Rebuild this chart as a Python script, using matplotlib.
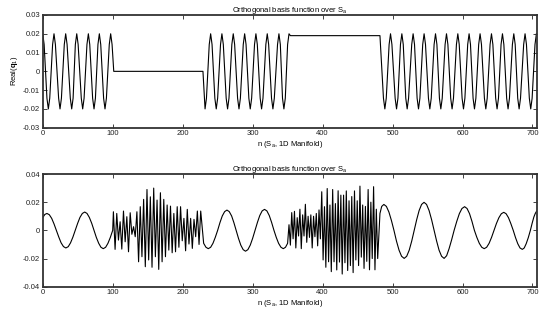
import matplotlib
matplotlib.use("Agg")
import matplotlib.pyplot as plt
import numpy as np

plt.rcParams["font.family"] = ["Liberation Sans", "DejaVu Sans"]
plt.rcParams["mathtext.fontset"] = "custom"
plt.rcParams["mathtext.rm"] = "Liberation Sans"
plt.rcParams["mathtext.it"] = "Liberation Sans:italic"
plt.rcParams["mathtext.bf"] = "Liberation Sans:bold"

# ---- top panel: Real(q1) ----
# first burst (n 0..101)
top1_n = [0, 2,
          6, 8, 10, 14.1, 16.1, 18.1, 22.7, 24.7, 26.7, 30.8, 32.8, 34.8,
          39.4, 41.4, 43.4, 46.6, 48.6, 50.6, 55.1, 57.1, 59.1, 63.2, 65.2, 67.2,
          71.3, 73.3, 75.3, 78.9, 80.9, 82.9, 87, 89, 91, 95.1, 97.1, 99.1,
          101.5, 229]
top1_v = [0.02, 0.0143,
          -0.0143, -0.02, -0.0143, 0.0143, 0.02, 0.0143, -0.0143, -0.02, -0.0143, 0.0143, 0.02, 0.0143,
          -0.0143, -0.02, -0.0143, 0.0143, 0.02, 0.0143, -0.0143, -0.02, -0.0143, 0.0143, 0.02, 0.0143,
          -0.0143, -0.02, -0.0143, 0.0143, 0.02, 0.0143, -0.0143, -0.02, -0.0143, 0.0143, 0.02, 0.0143,
          0.0, 0.0]
# second burst (n 229..354), then the flat level
top2_n = [232, 234, 238, 240, 242, 246, 248, 250, 254.1, 256.1, 258.1,
          262.2, 264.2, 266.2, 270.3, 272.3, 274.3, 278.5, 280.5, 282.5, 286.6, 288.6, 290.6,
          294.6, 296.6, 298.6, 302.7, 304.7, 306.7, 310.8, 312.8, 314.8, 318.9, 320.9, 322.9,
          327, 329, 331, 335.6, 337.6, 339.6, 342.7, 344.7, 346.7, 350, 352, 354, 482]
top2_v = [-0.02, -0.0143, 0.0143, 0.02, 0.0143, -0.0143, -0.02, -0.0143, 0.0143, 0.02, 0.0143,
          -0.0143, -0.02, -0.0143, 0.0143, 0.02, 0.0143, -0.0143, -0.02, -0.0143, 0.0143, 0.02, 0.0143,
          -0.0143, -0.02, -0.0143, 0.0143, 0.02, 0.0143, -0.0143, -0.02, -0.0143, 0.0143, 0.02, 0.0143,
          -0.0143, -0.02, -0.0143, 0.0143, 0.02, 0.0143, -0.0143, -0.02, -0.0143, 0.0143, 0.020, 0.019, 0.019]
# third burst (n 482..706)
top3_n = [487, 489, 491, 495.1, 497.1, 499.1, 503.7, 505.7, 507.7, 511.3, 513.3, 515.3,
          518.9, 520.9, 522.9, 527.4, 529.4, 531.4, 535.1, 537.1, 539.1, 543.1, 545.1, 547.1,
          551.3, 553.3, 555.3, 559.4, 561.4, 563.4, 567, 569, 571, 575.1, 577.1, 579.1,
          583.1, 585.1, 587.1, 591.3, 593.3, 595.3, 599.4, 601.4, 603.4, 607.4, 609.4, 611.4,
          615.1, 617.1, 619.1, 623.1, 625.1, 627.1, 631.3, 633.3, 635.3, 639.4, 641.4, 643.4,
          647.4, 649.4, 651.4, 655.1, 657.1, 659.1, 663.1, 665.1, 667.1, 671.3, 673.3, 675.3,
          678.9, 680.9, 682.9, 687.4, 689.4, 691.4, 695.5, 697.5, 699.5, 703.6, 705.6]
top3_v = [-0.0143, -0.02, -0.0143, 0.0143, 0.02, 0.0143, -0.0143, -0.02, -0.0143, 0.0143, 0.02, 0.0143,
          -0.0143, -0.02, -0.0143, 0.0143, 0.02, 0.0143, -0.0143, -0.02, -0.0143, 0.0143, 0.02, 0.0143,
          -0.0143, -0.02, -0.0143, 0.0143, 0.02, 0.0143, -0.0143, -0.02, -0.0143, 0.0143, 0.02, 0.0143,
          -0.0143, -0.02, -0.0143, 0.0143, 0.02, 0.0143, -0.0143, -0.02, -0.0143, 0.0143, 0.02, 0.0143,
          -0.0143, -0.02, -0.0143, 0.0143, 0.02, 0.0143, -0.0143, -0.02, -0.0143, 0.0143, 0.02, 0.0143,
          -0.0143, -0.02, -0.0143, 0.0143, 0.02, 0.0143, -0.0143, -0.02, -0.0143, 0.0143, 0.02, 0.0143,
          -0.0143, -0.02, -0.0143, 0.0143, 0.02, 0.0143, -0.0143, -0.02, -0.0143, 0.0143, 0.02]

# ---- bottom panel ----
smooth1_n = [0, 3, 6, 9.4, 12.8, 16.1, 19.5, 22.9, 26.2, 29.6, 33, 36.4, 39.7, 43.1, 46.5,
             49.9, 53.2, 56.6, 60, 63.3, 66.6, 70, 73.3, 76.6, 80, 83.2, 86.5, 89.9, 93.2, 96.6, 100]
smooth1_v = [0.0090, 0.0113, 0.0120, 0.0111, 0.0085, 0.0046, 0.0, -0.0047, -0.0088, -0.0115,
             -0.0125, -0.0116, -0.0089, -0.0048, 0.0, 0.0050, 0.0092, 0.0120, 0.0130, 0.0120,
             0.0092, 0.0050, 0.0, -0.0050, -0.0092, -0.0120, -0.0130, -0.0120, -0.0092, -0.0050, 0.0]

# fast part 1, alternating peaks / troughs starting at n=101, ~2.4 apart
noise_a = [0.0132, -0.0135, 0.0120, -0.0069, 0.0061, -0.0133, 0.0137, -0.0081, 0.0097, -0.0152,
           0.0125, -0.0028, 0.0026, -0.0045, 0.0132, -0.0223, 0.0168, -0.0187, 0.0220, -0.0258,
           0.0290, -0.0210, 0.0238, -0.0262, 0.0300, -0.0187, 0.0215, -0.0277, 0.0267, -0.0223,
           0.0220, -0.0187, 0.0180, -0.0140, 0.0172, -0.0159, 0.0120, -0.0152, 0.0168, -0.0120,
           0.0168, -0.0074, 0.0085, -0.0145, 0.0149, -0.0097, 0.0085, -0.0128, 0.0078, -0.0045,
           0.0137, -0.0100, 0.0137]

smooth2_n = [230, 233.3, 236.6, 240, 243.3, 246.6, 250, 253.3, 256.6, 260, 263.3, 266.6, 270,
             273.2, 276.5, 279.8, 283.1, 286.5, 289.8, 293.2, 296.6, 300, 303.5, 306.9, 310.2,
             313.6, 317, 320.4, 323.8, 327.1, 330.5, 333.8, 337.1, 340.5, 343.8, 347, 350]
smooth2_v = [-0.0092, -0.0120, -0.0130, -0.0120, -0.0092, -0.0050, 0.0, 0.0055, 0.0102, 0.0133,
             0.0144, 0.0133, 0.0102, 0.0055, 0.0, -0.0057, -0.0105, -0.0137, -0.0148, -0.0137,
             -0.0105, -0.0057, 0.0, 0.0057, 0.0105, 0.0138, 0.0149, 0.0138, 0.0105, 0.0057, 0.0,
             -0.0050, -0.0092, -0.0120, -0.0130, -0.0120, -0.0092]

# fast part 2, alternating starting at n=352, ~1.95 apart
noise_b = [0.0040, -0.0105, 0.0126, -0.0060, 0.0135, -0.0125, 0.0090, -0.0040, 0.0150, -0.0130,
           0.0110, -0.0040, 0.0185, -0.0085, 0.0100, -0.0050, 0.0110, -0.0125, 0.0100, -0.0045,
           0.0120, -0.0110, 0.0145, -0.0060,
           0.0274, -0.0210, 0.0168, -0.0262, 0.0297, -0.0223, 0.0180, -0.0293, 0.0290, -0.0223,
           0.0190, -0.0281, 0.0281, -0.0225, 0.0250, -0.0310, 0.0250, -0.0230, 0.0280, -0.0285,
           0.0210, -0.0250, 0.0240, -0.0300, 0.0280, -0.0210, 0.0210, -0.0250, 0.0314, -0.0190,
           0.0180, -0.0270, 0.0170, -0.0220, 0.0290, -0.0280, 0.0200, -0.0200, 0.0310, -0.0280,
           0.0150, -0.0200]

smooth3_n = [482, 484.5, 487.6, 491.2, 494.8, 498.4, 502, 505.6, 509.3, 512.9, 516.6, 520.2,
             523.8, 527.4, 531, 534.5, 538, 541.5, 545, 548.6, 552.2, 555.8, 559.4, 563, 566.5,
             570.1, 573.7, 577.3, 580.8, 584.4, 588, 591.8, 595.5, 599.2, 603, 606.5, 610, 613.5,
             617, 620.5, 624, 627.5, 631, 634.5, 638, 641.5, 645, 648.5, 652, 655.5, 659, 662.3,
             665.7, 669, 672.5, 675.8, 679, 682.2, 685.5, 688.2, 691, 694, 697, 699.5, 702, 704, 706]
smooth3_v = [0.0120, 0.0170, 0.0184, 0.0170, 0.0130, 0.0070, 0.0, -0.0076, -0.0141, -0.0184,
             -0.0199, -0.0184, -0.0141, -0.0076, 0.0, 0.0076, 0.0141, 0.0184, 0.0199, 0.0184,
             0.0141, 0.0076, 0.0, -0.0076, -0.0141, -0.0184, -0.0199, -0.0180, -0.0130, -0.0068,
             0.0, 0.0064, 0.0119, 0.0155, 0.0168, 0.0155, 0.0119, 0.0064, 0.0, -0.0050, -0.0092,
             -0.0120, -0.0130, -0.0120, -0.0092, -0.0050, 0.0, 0.0049, 0.0090, 0.0118, 0.0128,
             0.0118, 0.0090, 0.0049, 0.0, -0.0052, -0.0095, -0.0125, -0.0135, -0.0125, -0.0095,
             -0.0052, 0.0, 0.0050, 0.0095, 0.0120, 0.0137]

top_n = np.concatenate([top1_n, top2_n, top3_n])
top_v = np.concatenate([top1_v, top2_v, top3_v])
noise_a_n = 101 + 2.4 * np.arange(len(noise_a))
noise_b_n = 352 + 1.95 * np.arange(len(noise_b))
bot_n = np.concatenate([smooth1_n, noise_a_n, smooth2_n, noise_b_n, smooth3_n])
bot_v = np.concatenate([smooth1_v, noise_a, smooth2_v, noise_b, smooth3_v])

title = r"Orthogonal basis function over S$_\mathrm{a}$"
xlab = r"n (S$_\mathrm{a}$, 1D Manifold)"
fs = 5.5

fig = plt.figure(figsize=(5.41, 3.11), dpi=100)
ax1 = fig.add_axes([0.079, 0.5894, 0.913, 0.3624])
ax2 = fig.add_axes([0.079, 0.0781, 0.913, 0.3624])

ax1.plot(top_n, top_v, color="black", lw=0.8)
ax1.set_ylim(-0.03, 0.03)
ax1.set_yticks([-0.03, -0.02, -0.01, 0, 0.01, 0.02, 0.03])
ax1.set_ylabel(r"Real($\mathbf{q}_1$)", fontsize=fs, labelpad=2)

ax2.plot(bot_n, bot_v, color="black", lw=0.8)
ax2.set_ylim(-0.04, 0.04)
ax2.set_yticks([-0.04, -0.02, 0, 0.02, 0.04])
ax2.set_ylabel(r"Imag($\mathbf{q}_1$)", fontsize=fs, labelpad=15)

for ax in (ax1, ax2):
    ax.set_xlim(0, 706)
    ax.set_xticks(range(0, 701, 100))
    ax.set_title(title, fontsize=fs, pad=2)
    ax.set_xlabel(xlab, fontsize=fs, labelpad=1)
    ax.yaxis.set_major_formatter(matplotlib.ticker.FormatStrFormatter("%g"))
    ax.tick_params(direction="in", length=3, width=0.6, labelsize=fs, pad=2,
                   top=True, right=True, colors="#222222")
    for s in ax.spines.values():
        s.set_linewidth(1.3)
        s.set_color("#333333")

fig.savefig("out.png", dpi=100)
